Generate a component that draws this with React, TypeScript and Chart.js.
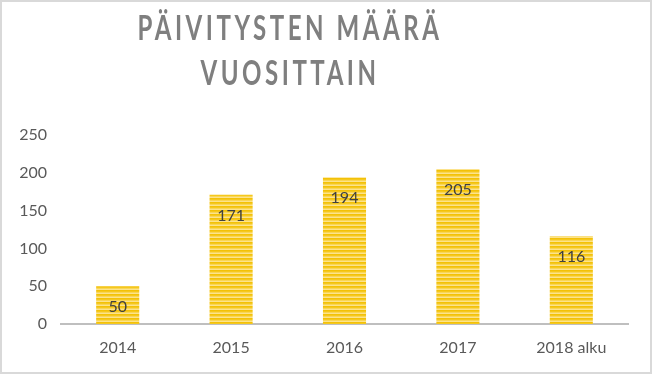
import React, { useEffect, useRef } from "react";
import { Chart, registerables } from "chart.js";

Chart.register(...registerables);

const categories = ["2014", "2015", "2016", "2017", "2018 alku"];
const values = [50, 171, 194, 205, 116];
const titleLines = ["PÄIVITYSTEN MÄÄRÄ", "VUOSITTAIN"];
const yTicks = [0, 50, 100, 150, 200, 250];

const FONT = "Lato, 'Open Sans', sans-serif";

function makePattern(ctx: CanvasRenderingContext2D) {
  const c = document.createElement("canvas");
  c.width = 4;
  c.height = 4;
  const p = c.getContext("2d")!;
  const rows = ["#F3C108", "#F5C81E", "#F9D656", "#FCE38C"];
  rows.forEach((col, i) => {
    p.fillStyle = col;
    p.fillRect(0, i, 4, 1);
  });
  return ctx.createPattern(c, "repeat");
}

export default function App() {
  const ref = useRef<HTMLCanvasElement>(null);
  useEffect(() => {
    const canvas = ref.current!;
    const ctx = canvas.getContext("2d")!;
    const pattern = makePattern(ctx);

    const titlePlugin = {
      id: "customTitle",
      afterDraw(chart: any) {
        const c = chart.ctx as CanvasRenderingContext2D;
        c.save();
        (c as any).letterSpacing = "5px";
        c.font = `bold 34px ${FONT}`;
        c.fillStyle = "#7f7f7f";
        c.textAlign = "center";
        c.textBaseline = "alphabetic";
        const w = c.measureText(titleLines[0]).width;
        const sx = 305 / w;
        c.translate(288, 0);
        c.scale(sx, 1);
        c.fillText(titleLines[0], 0, 38);
        c.fillText(titleLines[1], 0, 83);
        c.restore();
      },
    };

    const labelPlugin = {
      id: "barLabels",
      afterDatasetsDraw(chart: any) {
        const c = chart.ctx as CanvasRenderingContext2D;
        const meta = chart.getDatasetMeta(0);
        c.save();
        c.font = `16px ${FONT}`;
        c.fillStyle = "#404040";
        c.textAlign = "center";
        c.textBaseline = "middle";
        meta.data.forEach((bar: any, i: number) => {
          c.fillText(String(values[i]), bar.x, bar.y + 21);
        });
        c.restore();
      },
    };

    const chart = new Chart(canvas, {
      type: "bar",
      data: {
        labels: categories,
        datasets: [
          {
            data: values,
            backgroundColor: pattern as any,
            borderWidth: 0,
            barPercentage: 0.38,
            categoryPercentage: 1,
          },
        ],
      },
      options: {
        animation: false,
        responsive: false,
        layout: { padding: { top: 133, right: 22, bottom: 0, left: 0 } },
        plugins: {
          legend: { display: false },
          tooltip: { enabled: false },
          title: { display: false },
        },
        scales: {
          x: {
            grid: { display: false, drawTicks: false },
            border: { display: true, color: "#bfbfbf", width: 2 },
            ticks: {
              color: "#595959",
              font: { family: FONT, size: 16 },
              padding: 14,
            },
            afterFit(scale: any) {
              scale.height = 48;
            },
          },
          y: {
            min: 0,
            max: 250,
            grid: { display: false, drawTicks: false },
            border: { display: false },
            afterBuildTicks(scale: any) {
              scale.ticks = yTicks.map((v) => ({ value: v }));
            },
            ticks: {
              color: "#595959",
              font: { family: FONT, size: 16 },
              padding: 14,
            },
            afterFit(scale: any) {
              scale.width = 59;
            },
          },
        },
      },
      plugins: [titlePlugin, labelPlugin],
    });
    return () => chart.destroy();
  }, []);

  return (
    <div
      style={{
        position: "fixed",
        left: 0,
        top: 0,
        width: 652,
        height: 374,
        boxSizing: "border-box",
        border: "2px solid #d9d9d9",
        background: "#fff",
      }}
    >
      <canvas ref={ref} width={648} height={370} style={{ display: "block" }} />
    </div>
  );
}
